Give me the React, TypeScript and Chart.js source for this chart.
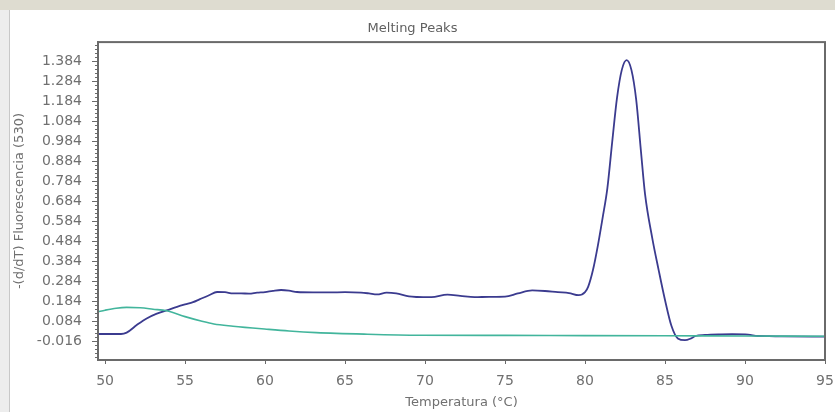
import React, { useEffect, useRef } from "react";
import { Chart, registerables } from "chart.js";

Chart.register(...registerables);

const chartTitle = "Melting Peaks";
const xAxisTitle = "Temperatura (°C)";
const yAxisTitle = "-(d/dT) Fluorescencia (530)";

const xTicks = [50, 55, 60, 65, 70, 75, 80, 85, 90, 95];
const yTicks = [
  -0.016, 0.084, 0.184, 0.284, 0.384, 0.484, 0.584, 0.684, 0.784, 0.884, 0.984,
  1.084, 1.184, 1.284, 1.384,
];
const xMin = 49.56;
const xMax = 95;
const yMin = -0.111;
const yMax = 1.479;

const sampleTemps = [
  49.56, 50.5, 51.0, 51.35, 52.0, 52.6, 53.2, 53.85, 54.5, 55.0, 55.5, 55.9, 56.5,
  57.0, 57.5, 58.0, 58.5, 59.0, 59.5, 60.0, 60.5, 61.0, 61.5, 62.0, 63.0, 64.0,
  65.0, 66.0, 66.5, 67.0, 67.6, 68.2, 69.0, 69.5, 70.4, 71.4, 72.2, 73.1, 74.0,
  75.0, 75.8, 76.7, 77.5, 78.3, 79.0, 79.6, 80.0, 80.2, 80.5, 80.8, 81.1, 81.4,
  81.7, 82.0, 82.3, 82.6, 82.9, 83.2, 83.5, 83.75, 84.2, 84.6, 85.0, 85.4, 85.8,
  86.25, 86.6, 86.9, 87.5, 88.5, 89.2, 90.2, 90.8, 91.5, 92.3, 94.2, 95.0,
];
const sampleValues = [
  0.019, 0.019, 0.019, 0.026, 0.065, 0.097, 0.12, 0.137, 0.155, 0.167, 0.178, 0.192,
  0.213, 0.229, 0.228, 0.222, 0.222, 0.221, 0.226, 0.229, 0.235, 0.239, 0.236, 0.229,
  0.227, 0.227, 0.228, 0.226, 0.222, 0.217, 0.226, 0.222, 0.207, 0.204, 0.203, 0.216,
  0.21, 0.203, 0.205, 0.206, 0.222, 0.237, 0.234, 0.228, 0.224, 0.213, 0.228, 0.256,
  0.34, 0.46, 0.6, 0.75, 0.98, 1.2, 1.34, 1.389, 1.34, 1.19, 0.93, 0.72, 0.5, 0.34,
  0.189, 0.06, -0.003, -0.012, -0.004, 0.009, 0.014, 0.017, 0.018, 0.016, 0.009,
  0.008, 0.007, 0.006, 0.006,
];

const controlTemps = [
  49.56, 50.0, 50.7, 51.35, 52.2, 53.0, 53.85, 55.0, 56.0, 56.8, 58.0, 60.1, 61.5,
  63.2, 66.4, 69.7, 75.0, 80.0, 85.0, 90.0, 95.0,
];
const controlValues = [
  0.13, 0.138, 0.148, 0.152, 0.15, 0.143, 0.135, 0.106, 0.084, 0.069, 0.058, 0.043,
  0.034, 0.026, 0.018, 0.013, 0.012, 0.011, 0.01, 0.009, 0.008,
];

const frameColor = "#6a6a6a";
const textColor = "#707070";
const fontFamily = "'DejaVu Sans', sans-serif";

const framePlugin = {
  id: "frameAndMinorTicks",
  afterDraw(chart: any) {
    const { ctx, chartArea } = chart;
    const yScale = chart.scales.y;
    ctx.save();
    ctx.strokeStyle = frameColor;
    ctx.lineWidth = 2;
    ctx.strokeRect(
      chartArea.left,
      chartArea.top,
      chartArea.right - chartArea.left,
      chartArea.bottom - chartArea.top
    );
    ctx.lineWidth = 1;
    for (let k = -4; k <= 80; k++) {
      const v = -0.016 + k * 0.02;
      if (v < yMin || v > yMax) continue;
      const py = Math.round(yScale.getPixelForValue(v)) + 0.5;
      ctx.beginPath();
      ctx.moveTo(chartArea.left - 3, py);
      ctx.lineTo(chartArea.left, py);
      ctx.stroke();
    }
    ctx.restore();
  },
};

export default function App() {
  const canvasRef = useRef<HTMLCanvasElement | null>(null);

  useEffect(() => {
    if (!canvasRef.current) return;
    const chart = new Chart(canvasRef.current, {
      type: "line",
      data: {
        datasets: [
          {
            label: "Control",
            data: controlTemps.map((t, i) => ({ x: t, y: controlValues[i] })),
            borderColor: "#42b59c",
            borderWidth: 1.6,
            pointRadius: 0,
            cubicInterpolationMode: "monotone",
          },
          {
            label: "Muestra",
            data: sampleTemps.map((t, i) => ({ x: t, y: sampleValues[i] })),
            borderColor: "#3b3b8f",
            borderWidth: 1.8,
            pointRadius: 0,
            cubicInterpolationMode: "monotone",
          },
        ],
      },
      options: {
        responsive: false,
        animation: false,
        layout: { padding: { left: 0, right: 10, top: 0, bottom: 0 } },
        plugins: {
          legend: { display: false },
          tooltip: { enabled: false },
          title: {
            display: true,
            text: chartTitle,
            color: "#606060",
            font: { family: fontFamily, size: 13, weight: "normal" },
            padding: { top: 21, bottom: 5.5 },
          },
        },
        scales: {
          x: {
            type: "linear",
            min: xMin,
            max: xMax,
            afterBuildTicks: (scale: any) => {
              scale.ticks = xTicks.map((v) => ({ value: v }));
            },
            afterFit: (scale: any) => {
              scale.height = 52;
              scale.paddingRight = 0;
              scale.paddingLeft = 0;
            },
            grid: {
              drawOnChartArea: false,
              drawTicks: true,
              tickLength: 4,
              color: frameColor,
            },
            border: { display: true, color: frameColor, width: 2 },
            ticks: {
              color: textColor,
              padding: 9,
              maxRotation: 0,
              autoSkip: false,
              font: { family: fontFamily, size: 14 },
              callback: (v: any) => String(v),
            },
            title: {
              display: true,
              text: xAxisTitle,
              color: textColor,
              font: { family: fontFamily, size: 13 },
              padding: { top: 0, bottom: 2 },
            },
          },
          y: {
            type: "linear",
            min: yMin,
            max: yMax,
            afterBuildTicks: (scale: any) => {
              scale.ticks = yTicks.map((v) => ({ value: v }));
            },
            afterFit: (scale: any) => {
              scale.width = 98;
            },
            grid: {
              drawOnChartArea: false,
              drawTicks: true,
              tickLength: 6,
              color: frameColor,
            },
            border: { display: true, color: frameColor, width: 2 },
            ticks: {
              color: textColor,
              padding: 10,
              autoSkip: false,
              font: { family: fontFamily, size: 14 },
              callback: (v: any) => Number(v).toFixed(3),
            },
            title: {
              display: true,
              text: yAxisTitle,
              color: textColor,
              font: { family: fontFamily, size: 13 },
              padding: { top: 12, bottom: 0 },
            },
          },
        },
      },
      plugins: [framePlugin],
    } as any);
    return () => chart.destroy();
  }, []);

  return (
    <div
      style={{
        position: "fixed",
        left: 0,
        top: 0,
        width: 835,
        height: 412,
        background: "#ededed",
        overflow: "hidden",
      }}
    >
      <div
        style={{
          position: "absolute",
          left: 0,
          top: 0,
          width: 835,
          height: 10,
          background: "#dedcd0",
        }}
      />
      <div
        style={{
          position: "absolute",
          left: 9,
          top: 10,
          right: 0,
          bottom: 0,
          background: "#ffffff",
          borderLeft: "1px solid #c8c8c8",
        }}
      />
      <canvas
        ref={canvasRef}
        width={835}
        height={412}
        style={{ position: "absolute", left: 0, top: 0 }}
      />
    </div>
  );
}
